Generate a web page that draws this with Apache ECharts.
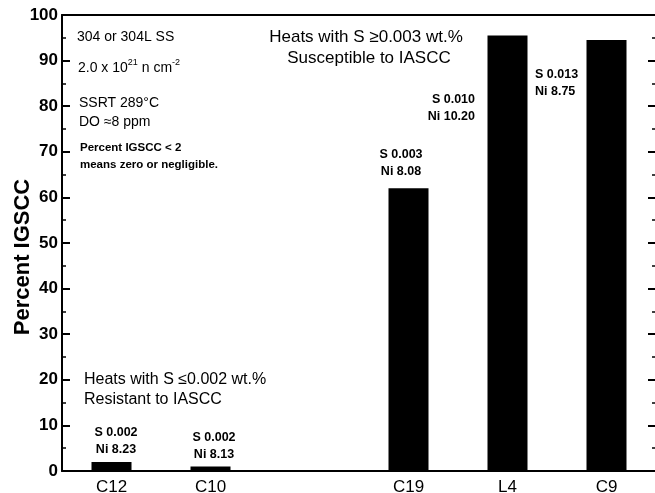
<!DOCTYPE html>
<html><head><meta charset="utf-8">
<script src="https://cdn.jsdelivr.net/npm/echarts@6/dist/echarts.min.js"></script>
<style>html,body{margin:0;padding:0;background:#fff}#c{width:655px;height:493px}</style>
</head><body><div id="c"></div>
<script>
const categories = ['C12', 'C10', '', 'C19', 'L4', 'C9'];
const igscc = [2, 1, null, 62, 95.5, 94.5];
const sulfur = ['S 0.002', 'S 0.002', '', 'S 0.003', 'S 0.010', 'S 0.013'];
const nickel = ['Ni 8.23', 'Ni 8.13', '', 'Ni 8.08', 'Ni 10.20', 'Ni 8.75'];
const yMin = 0, yMax = 100, yStep = 10;
const yTitle = 'Percent IGSCC';

const FONT = 'Liberation Sans';
const chart = echarts.init(document.getElementById('c'), null, {renderer: 'canvas'});

function txt(x, y, text, size, opts) {
  opts = opts || {};
  return {
    type: 'text', x: x, y: y, z: 10, rotation: opts.rotation || 0,
    style: Object.assign({
      text: text, fontFamily: FONT, fontSize: size, fill: '#000',
      fontWeight: opts.bold ? 'bold' : 'normal',
      align: opts.align || 'left', verticalAlign: 'middle'
    }, opts.style || {})
  };
}

// bar annotation placement (layout only)
const barLabelLayout = [
  {x: 116, y: 433, align: 'center'},
  {x: 214, y: 438, align: 'center'},
  null,
  {x: 401, y: 155, align: 'center'},
  {x: 475, y: 100, align: 'right'},
  {x: 535, y: 75, align: 'left'}
];

const graphics = [
  txt(23, 257, yTitle, 22, {bold: true, align: 'center', rotation: Math.PI / 2}),
  txt(77, 37, '304 or 304L SS', 14),
  {
    type: 'text', x: 78, y: 68, z: 10,
    style: {
      text: '2.0 x 10{sup|21} n cm{sup|-2}', fontFamily: FONT, fontSize: 14, fill: '#000',
      verticalAlign: 'middle',
      rich: {sup: {fontFamily: FONT, fontSize: 9, fill: '#000', padding: [0, 0, 10, 0]}}
    }
  },
  txt(79, 103, 'SSRT 289°C', 14),
  txt(79, 122, 'DO ≈8 ppm', 14),
  txt(80, 148, 'Percent IGSCC < 2', 11.5, {bold: true}),
  txt(80, 165, 'means zero or negligible.', 11.5, {bold: true}),
  txt(366, 37, 'Heats with S ≥0.003 wt.%', 17, {align: 'center'}),
  txt(369, 58, 'Susceptible to IASCC', 17, {align: 'center'}),
  txt(84, 380, 'Heats with S ≤0.002 wt.%', 16),
  txt(84, 400, 'Resistant to IASCC', 16)
];
categories.forEach(function (c, i) {
  const L = barLabelLayout[i];
  if (!L || !sulfur[i]) return;
  graphics.push(txt(L.x, L.y, sulfur[i], 12.5, {bold: true, align: L.align}));
  graphics.push(txt(L.x, L.y + 17, nickel[i], 12.5, {bold: true, align: L.align}));
});

const valAxisCommon = {
  type: 'value', min: yMin, max: yMax, interval: yStep,
  splitLine: {show: false},
  axisLine: {show: true, lineStyle: {color: '#000', width: 2}},
  axisTick: {show: true, inside: true, length: 8, lineStyle: {color: '#000', width: 2}},
  minorTick: {show: true, splitNumber: 2, length: 4, lineStyle: {color: '#000', width: 1.5}},
  minorSplitLine: {show: false}
};

chart.setOption({
  animation: false,
  backgroundColor: '#fff',
  grid: {left: 62, top: 15, width: 594, bottom: 22, containLabel: false, outerBoundsMode: 'none'},
  xAxis: [{
    type: 'category', data: categories, position: 'bottom',
    axisLine: {show: true, lineStyle: {color: '#000', width: 2}},
    axisTick: {show: false},
    axisLabel: {color: '#000', fontFamily: FONT, fontSize: 17, margin: 8, interval: 0}
  }, {
    type: 'category', data: categories, position: 'top',
    axisLine: {show: true, onZero: false, lineStyle: {color: '#000', width: 2}},
    axisTick: {show: false}, axisLabel: {show: false}
  }],
  yAxis: [
    Object.assign({}, valAxisCommon, {
      position: 'left',
      axisLabel: {color: '#000', fontFamily: FONT, fontSize: 17, fontWeight: 'bold', margin: 4}
    }),
    Object.assign({}, valAxisCommon, {
      position: 'right',
      axisLabel: {show: false}
    })
  ],
  series: [{
    type: 'bar', data: igscc, barWidth: 40, xAxisIndex: 0, yAxisIndex: 0,
    itemStyle: {color: '#000'}
  }],
  graphic: graphics
});
</script></body></html>
